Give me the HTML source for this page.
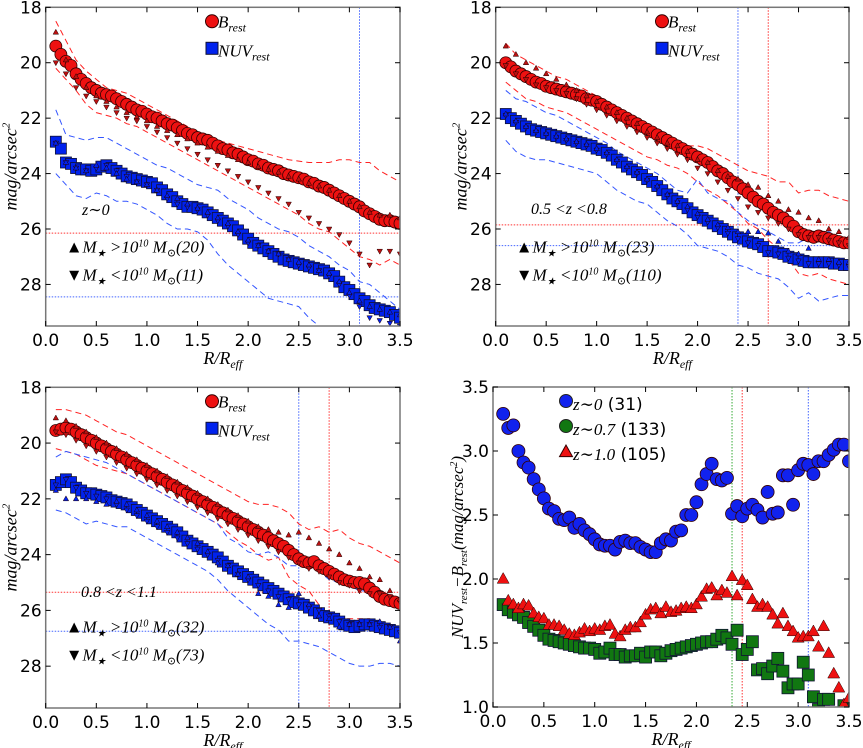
<!DOCTYPE html>
<html><head><meta charset="utf-8"><style>
body{margin:0;background:#fff}
svg{display:block}
.t{font-family:"DejaVu Sans","Liberation Sans",sans-serif;font-size:17px;fill:#000}
.m{font-family:"Liberation Serif","DejaVu Serif",serif;font-style:italic;fill:#000}
</style></head><body>
<svg id="fig" width="863" height="748" viewBox="0 0 863 748" xmlns="http://www.w3.org/2000/svg"></svg>
<script>
// ---- data (radii: 0.1..3.5; dense series step 0.05, sparse step 0.1) ----
const p1B=[19.4,19.7,19.95,20.1,20.4,20.6,20.75,20.9,21.0,21.1,21.15,21.2,21.3,21.4,21.5,21.6,21.7,21.75,21.85,21.95,22.0,22.1,22.2,22.25,22.35,22.45,22.55,22.6,22.7,22.75,22.8,22.9,23.0,23.1,23.15,23.25,23.3,23.4,23.5,23.55,23.65,23.7,23.8,23.85,23.9,24.0,24.05,24.1,24.15,24.2,24.3,24.35,24.45,24.5,24.6,24.7,24.8,24.9,25.0,25.1,25.2,25.35,25.45,25.55,25.65,25.7,25.7,25.75,25.8];
const p1N=[22.85,23.1,23.6,23.65,23.8,23.85,23.85,23.9,23.85,23.75,23.7,23.8,23.9,24.0,24.1,24.15,24.2,24.25,24.3,24.35,24.5,24.6,24.75,24.85,25.0,25.1,25.2,25.2,25.25,25.3,25.4,25.5,25.6,25.7,25.8,25.9,26.05,26.2,26.35,26.5,26.6,26.7,26.8,26.9,27.0,27.1,27.15,27.2,27.25,27.3,27.35,27.4,27.45,27.5,27.6,27.7,27.9,28.1,28.2,28.35,28.5,28.6,28.75,28.85,28.9,28.95,29.0,29.1,29.2];
const p1BUp=[18.9,19.9,20.5,20.9,21.2,21.4,21.6,21.8,21.95,22.1,22.3,22.45,22.6,22.75,22.9,23.05,23.2,23.35,23.5,23.6,23.75,23.85,23.95,24.1,24.2,24.35,24.45,24.6,24.8,25.0,25.2,25.4,25.5,25.5,25.6];
const p1BDn=[20.0,20.4,20.9,21.2,21.4,21.6,21.8,22.0,22.1,22.3,22.5,22.7,22.9,23.1,23.3,23.5,23.7,23.9,24.1,24.3,24.5,24.7,24.9,25.1,25.4,25.6,25.8,26.0,26.2,26.5,26.9,27.3,26.8,26.8,26.9];
const p1NUp=[22.9,23.6,23.8,23.9,23.7,23.8,24.0,24.2,24.3,24.4,24.6,24.8,24.9,25.1,25.25,25.4,25.6,25.8,26.1,26.4,26.6,26.8,26.9,27.1,27.2,27.3,27.5,27.6,27.9,28.3,28.6,28.8,28.9,29.0,29.1];
const p1NDn=[22.9,23.6,23.8,23.9,23.8,23.7,23.9,24.1,24.3,24.4,24.6,24.9,25.1,25.2,25.3,25.5,25.7,25.9,26.2,26.5,26.6,26.8,26.9,27.1,27.3,27.4,27.5,27.7,28.0,28.4,28.8,29.2,29.3,29.4,29.5];
const p1RU=[18.5,19.2,19.9,20.3,20.6,20.9,21.0,21.1,21.3,21.5,21.7,21.9,22.1,22.3,22.5,22.6,22.8,22.9,23.0,23.1,23.2,23.3,23.4,23.5,23.55,23.6,23.6,23.6,23.5,23.5,23.6,23.6,23.9,24.1,24.3];
const p1RL=[20.2,20.6,21.0,21.5,21.8,21.9,22.0,22.2,22.3,22.5,22.7,22.9,23.1,23.3,23.5,23.7,23.9,24.1,24.3,24.5,24.7,24.9,25.1,25.3,25.5,25.8,26.0,26.1,26.4,26.7,27.0,27.1,27.3,27.1,27.3];
const p1NU=[21.7,22.6,22.7,22.8,22.7,22.7,22.9,23.1,23.3,23.5,23.7,23.8,24.0,24.2,24.4,24.5,24.6,24.9,25.1,25.3,25.6,25.8,26.0,26.1,26.3,26.6,26.8,27.0,27.3,27.5,27.9,28.0,28.3,28.6,28.9];
const p1NL=[24.0,24.4,24.8,24.9,24.7,24.8,25.0,25.0,25.1,25.3,25.5,25.8,26.0,26.0,26.1,26.4,26.9,27.3,27.6,27.9,28.2,28.5,28.6,28.7,28.8,29.2,29.5,29.8,30.2,30.5,30.8,31,31,31,31];
const p1Ref={vB:[3.1],vR:[],hR:[26.15],hB:[28.45]};

const p2B=[20.0,20.15,20.3,20.4,20.5,20.6,20.7,20.75,20.85,20.9,20.95,21.0,21.05,21.1,21.15,21.2,21.3,21.35,21.4,21.5,21.6,21.7,21.8,21.9,22.0,22.1,22.2,22.3,22.4,22.5,22.6,22.7,22.8,22.9,23.0,23.1,23.2,23.3,23.4,23.5,23.6,23.75,23.9,24.0,24.15,24.3,24.4,24.55,24.7,24.85,25.0,25.1,25.25,25.4,25.5,25.6,25.75,25.9,26.1,26.2,26.25,26.3,26.25,26.3,26.35,26.4,26.45,26.5,26.5];
const p2N=[21.85,22.0,22.1,22.2,22.3,22.4,22.45,22.5,22.55,22.6,22.65,22.7,22.75,22.8,22.85,22.9,22.95,23.0,23.1,23.15,23.25,23.35,23.5,23.6,23.75,23.85,23.95,24.05,24.2,24.3,24.45,24.6,24.75,24.9,25.0,25.1,25.25,25.4,25.5,25.6,25.7,25.8,25.9,26.0,26.1,26.2,26.3,26.35,26.45,26.5,26.55,26.65,26.8,26.8,26.85,26.9,27.0,27.05,27.1,27.15,27.2,27.2,27.2,27.2,27.2,27.25,27.25,27.3,27.3];
const p2BUp=[19.4,19.7,20.0,20.2,20.4,20.6,20.8,21.0,21.2,21.4,21.6,21.8,22.0,22.2,22.5,22.7,22.9,23.0,23.2,23.5,23.6,23.9,24.1,24.2,24.4,24.5,24.8,25.0,25.3,25.4,25.6,25.7,26.0,26.1,26.3];
const p2BDn=[20.1,20.4,20.6,20.8,20.9,21.0,21.1,21.3,21.5,21.7,21.9,22.1,22.3,22.5,22.7,22.9,23.1,23.3,23.5,23.8,24.0,24.3,24.6,24.9,25.2,25.4,25.6,25.8,26.0,26.2,26.3,26.3,26.4,26.5,26.6];
const p2NUp=[21.85,22.1,22.3,22.45,22.55,22.65,22.75,22.85,22.95,23.1,23.25,23.5,23.75,23.95,24.2,24.45,24.75,25.0,25.2,25.45,25.65,25.85,25.95,26.1,26.1,26.1,26.15,26.45,26.8,26.9,26.7,27.1,27.1,27.2,27.2];
const p2NDn=[21.9,22.15,22.35,22.5,22.6,22.7,22.8,22.9,23.0,23.15,23.3,23.55,23.8,24.0,24.25,24.5,24.8,25.05,25.3,25.55,25.75,25.95,26.15,26.35,26.5,26.6,26.85,26.9,27.05,27.15,27.25,27.25,27.25,27.3,27.35];
const p2RU=[19.3,19.7,19.9,20.1,20.3,20.5,20.6,20.8,21.0,21.2,21.4,21.6,21.8,22.0,22.2,22.4,22.6,22.8,23.0,23.0,23.1,23.3,23.5,23.7,23.9,24.0,24.1,24.3,24.3,24.7,24.6,24.6,24.8,24.9,25.0];
const p2RL=[20.7,21.0,21.3,21.4,21.6,21.7,21.8,22.0,22.2,22.4,22.6,22.8,23.0,23.2,23.4,23.5,23.7,23.8,24.0,24.3,24.6,24.8,25.1,25.4,25.8,26.0,26.4,26.7,27.1,27.6,27.7,27.6,27.8,27.9,28.0];
const p2NU=[21.0,21.3,21.4,21.6,21.8,21.9,22.1,22.3,22.5,22.7,22.9,23.2,23.4,23.6,23.8,24.0,24.3,24.6,24.7,24.2,24.7,24.9,25.0,25.4,25.7,25.9,26.1,26.3,26.5,26.5,26.3,26.2,26.1,26.3,26.4];
const p2NL=[22.8,23.2,23.4,23.5,23.5,23.6,23.7,23.8,23.9,24.0,24.3,24.6,24.8,25.0,25.1,25.4,25.7,25.9,26.2,26.6,26.7,26.8,27.0,27.3,27.4,27.6,27.7,27.8,28.1,28.5,28.3,28.6,28.5,28.4,28.4];
const p2Ref={vB:[2.4],vR:[2.7],hR:[25.85],hB:[26.6]};

const p3B=[19.55,19.5,19.45,19.5,19.6,19.7,19.8,19.9,20.0,20.1,20.2,20.3,20.4,20.5,20.6,20.7,20.8,20.9,21.0,21.1,21.2,21.3,21.4,21.5,21.6,21.7,21.8,21.9,22.0,22.1,22.2,22.3,22.4,22.5,22.6,22.7,22.8,22.9,23.0,23.1,23.2,23.3,23.4,23.5,23.6,23.7,23.85,24.0,24.15,24.25,24.3,24.25,24.4,24.5,24.6,24.7,24.8,24.9,24.95,25.0,25.0,25.05,25.2,25.35,25.5,25.6,25.65,25.7,25.75];
const p3N=[21.5,21.4,21.3,21.4,21.6,21.7,21.8,21.8,21.85,21.9,21.95,22.05,22.1,22.15,22.2,22.3,22.4,22.5,22.6,22.7,22.8,22.9,23.0,23.1,23.2,23.35,23.5,23.6,23.7,23.8,23.9,24.0,24.1,24.25,24.4,24.5,24.6,24.7,24.8,24.9,25.0,25.1,25.2,25.3,25.4,25.5,25.6,25.7,25.75,25.8,25.9,26.0,26.1,26.2,26.25,26.3,26.4,26.5,26.55,26.6,26.55,26.5,26.5,26.55,26.6,26.65,26.7,26.75,26.8];
const p3BUp=[19.1,19.2,19.4,19.6,19.8,20.0,20.2,20.4,20.6,20.8,21.0,21.2,21.4,21.6,21.8,22.0,22.2,22.4,22.6,22.8,23.0,23.1,23.2,23.3,23.2,23.4,23.6,23.8,24.0,24.3,24.5,24.8,24.9,25.3,25.6];
const p3BDn=[19.6,19.7,19.9,20.1,20.3,20.5,20.7,20.9,21.1,21.3,21.5,21.7,21.9,22.1,22.3,22.5,22.7,22.9,23.1,23.3,23.5,23.7,23.9,24.1,24.3,24.5,24.6,24.8,25.0,25.1,25.3,25.4,25.4,25.5,25.7];
const p3NUp=[21.7,22.0,22.0,22.0,22.1,22.2,22.1,22.2,22.4,22.6,22.8,23.0,23.2,23.4,23.6,23.9,24.3,24.4,24.7,24.8,25.4,25.5,25.8,25.9,25.4,25.8,26.2,26.3,26.6,26.5,26.5,26.5,26.4,26.6,27.1];
const p3NDn=[21.5,21.3,21.6,21.8,21.9,22.0,22.2,22.4,22.6,22.8,23.0,23.2,23.4,23.6,23.8,24.0,24.2,24.4,24.7,24.9,25.1,25.3,25.5,25.6,25.8,25.9,26.0,26.2,26.4,26.5,26.5,26.5,26.6,26.6,26.8];
const p3RU=[18.8,18.8,18.9,19.0,19.2,19.4,19.6,19.7,19.9,20.1,20.3,20.5,20.7,20.9,21.1,21.3,21.5,21.7,21.9,22.1,22.2,22.2,22.3,22.5,22.9,23.1,23.0,23.2,23.1,23.4,23.6,23.7,23.9,24.1,24.3];
const p3RL=[20.2,20.3,20.4,20.6,20.8,20.9,21.0,21.1,21.3,21.5,21.7,21.9,22.1,22.3,22.5,22.7,22.9,23.2,23.5,23.7,24.0,24.2,24.1,24.8,25.1,25.3,25.8,26.2,26.3,26.3,26.3,26.3,26.5,26.7,27.2];
const p3NU=[20.5,20.3,20.4,20.5,20.6,20.7,20.9,21.1,21.3,21.5,21.7,21.9,22.1,22.3,22.5,22.7,22.9,23.4,23.6,23.9,24.0,23.9,24.1,24.4,24.4,24.3,24.6,24.9,25.0,25.1,25.3,25.3,25.3,25.7,25.8];
const p3NL=[22.4,22.5,22.7,22.9,22.8,22.9,23.0,23.0,23.2,23.4,23.6,23.8,24.0,24.2,24.4,24.6,24.9,25.3,25.6,25.9,26.2,26.5,26.7,27.1,27.1,27.2,27.3,27.5,27.7,27.9,28.0,28.0,27.9,27.9,28.0];
const p3Ref={vB:[2.5],vR:[2.8],hR:[25.35],hB:[26.75]};

const c0=[3.29,3.18,3.20,3.00,2.91,2.87,2.78,2.70,2.63,2.55,2.53,2.47,2.46,2.48,2.40,2.43,2.38,2.35,2.31,2.27,2.26,2.26,2.23,2.29,2.30,2.28,2.28,2.25,2.23,2.21,2.21,2.28,2.31,2.30,2.37,2.38,2.50,2.50,2.60,2.74,2.82,2.90,2.78,2.77,2.79,2.51,2.57,2.49,2.55,2.58,2.54,2.48,2.68,2.51,2.52,2.81,2.81,2.58,2.85,2.90,2.89,2.82,2.92,2.92,2.97,3.01,3.05,3.05,2.92];
const c07=[1.80,1.76,1.74,1.72,1.70,1.66,1.63,1.60,1.56,1.53,1.52,1.51,1.50,1.49,1.48,1.47,1.46,1.46,1.45,1.42,1.43,1.46,1.41,1.41,1.39,1.40,1.40,1.42,1.39,1.43,1.43,1.40,1.42,1.44,1.45,1.46,1.47,1.48,1.49,1.50,1.51,1.51,1.53,1.56,1.54,1.49,1.60,1.41,1.45,1.51,1.29,1.30,1.26,1.32,1.38,1.28,1.15,1.18,1.18,1.35,1.25,1.08,0.98,1.06,1.06,0.95,0.95,1.01,0.98];
const c10=[2.00,1.83,1.80,1.77,1.80,1.79,1.73,1.70,1.69,1.64,1.64,1.63,1.60,1.57,1.56,1.58,1.61,1.59,1.61,1.60,1.63,1.64,1.57,1.55,1.60,1.62,1.62,1.66,1.72,1.76,1.77,1.73,1.78,1.74,1.75,1.77,1.78,1.77,1.80,1.86,1.92,1.93,1.87,1.91,1.89,2.02,1.87,1.99,1.95,1.84,1.78,1.80,1.78,1.72,1.65,1.73,1.63,1.59,1.54,1.55,1.55,1.59,1.47,1.63,1.42,1.26,1.15,1.02,1.07];
const p4Ref={vG:[2.35],vR:[2.45],vB:[3.1]};
const xTicks=["0.0","0.5","1.0","1.5","2.0","2.5","3.0","3.5"];
const yTicksMag=["18","20","22","24","26","28"];
const yTicksCol=["1.0","1.5","2.0","2.5","3.0","3.5"];

// ---- drawing ----
const NS="http://www.w3.org/2000/svg";
const fig=document.getElementById('fig');
function el(tag,attrs,parent){const e=document.createElementNS(NS,tag);for(const k in attrs)e.setAttribute(k,attrs[k]);(parent||fig).appendChild(e);return e;}
const R=(i,step)=>0.1+i*step;

function panel(id,L,Rt,T,B,y0,y1,clipId){
  const g=el('g',{});
  
  
  const sx=v=>L+(v/3.5)*(Rt-L), sy=v=>T+(v-y0)/(y1-y0)*(B-T);
  const defs=el('defs',{},g);const cp=el('clipPath',{id:clipId},defs);el('rect',{x:L,y:T,width:Rt-L,height:B-T},cp);
  const plot=el('g',{'clip-path':'url(#'+clipId+')'},g);
  return {g,plot,sx,sy,L,Rt,T,B,y0,y1};
}
function axes(P,yLabels,yVals){
  const {g,sx,sy,L,Rt,T,B}=P;
  const fr=el('rect',{x:L,y:T,width:Rt-L,height:B-T,fill:'none',stroke:'#777',"stroke-width":1.5},g);
  
  
  xTicks.forEach((t,i)=>{const x=sx(i*0.5);
    el('line',{x1:x,x2:x,y1:B,y2:B-5,stroke:'#000'},g);el('line',{x1:x,x2:x,y1:T,y2:T+5,stroke:'#000'},g);
    const tx=el('text',{x:x,y:B+20,'text-anchor':'middle',class:'t'},g);tx.textContent=t;
    
    });
  yLabels.forEach((t,i)=>{const y=sy(yVals[i]);
    el('line',{x1:L,x2:L+5,y1:y,y2:y,stroke:'#000'},g);el('line',{x1:Rt,x2:Rt-5,y1:y,y2:y,stroke:'#000'},g);
    const tx=el('text',{x:L-4,y:y+6,'text-anchor':'end',class:'t'},g);tx.textContent=t;
    
    });
  const xl=el('text',{x:(L+Rt)/2,y:B+38,'text-anchor':'middle',class:'m','font-size':18},g);
  xl.innerHTML='R/R<tspan font-size="12" dy="4">eff</tspan>';
  
  
}
function ytitle(P,html,x,fs){
  const yl=el('text',{x:0,y:0,'text-anchor':'middle',class:'m','font-size':fs,transform:`translate(${x},${(P.T+P.B)/2}) rotate(-90)`},P.g);
  yl.innerHTML=html;
  
  
}
function dashed(P,arr,color,name){
  const pts=arr.map((v,i)=>P.sx(R(i,0.1))+','+P.sy(v)).join(' ');
  const e=el('polyline',{points:pts,fill:'none',stroke:color,'stroke-width':1,'stroke-dasharray':'6,4'},P.plot);
  
  
}
function refs(P,r){
  const mk=(arr,col,vert,name)=>(arr||[]).forEach(v=>{
    const a=vert?{x1:P.sx(v),x2:P.sx(v),y1:P.T,y2:P.B}:{x1:P.L,x2:P.Rt,y1:P.sy(v),y2:P.sy(v)};
    a.stroke=col;a['stroke-width']=1;a['stroke-dasharray']='1.5,1.5';
    const e=el('line',a,P.plot);
    
    });
  mk(r.vB,'#4466ff',true,'ref-line-blue');mk(r.vR,'#ff3333',true,'ref-line-red');mk(r.vG,'#33aa33',true,'ref-line-green');
  mk(r.hR,'#ff3333',false,'ref-line-red');mk(r.hB,'#4466ff',false,'ref-line-blue');
}
function tri(cx,cy,s,up){const h=s*0.9;return up?`${cx},${cy-h*0.6} ${cx-s/2},${cy+h*0.4} ${cx+s/2},${cy+h*0.4}`:`${cx},${cy+h*0.6} ${cx-s/2},${cy-h*0.4} ${cx+s/2},${cy-h*0.4}`;}
function marks(P,arr,step,kind,fill,size,name){
  arr.forEach((v,i)=>{const x=P.sx(R(i,step)),y=P.sy(v);let e;
    if(kind==='c')e=el('circle',{cx:x,cy:y,r:size,fill:fill,stroke:'#300','stroke-width':0.8},P.plot);
    else if(kind==='s')e=el('rect',{x:x-size,y:y-size,width:size*2,height:size*2,fill:fill,stroke:'#113','stroke-width':0.8},P.plot);
    else e=el('polygon',{points:tri(x,y,size,kind==='u'),fill:fill,stroke:'#200','stroke-width':0.5},P.plot);
    
    });
}
function magPanel(id,L,Rt,T,B,d,ref,zText,zx,zy,nUp,nDn,legX){
  const P=panel(id,L,Rt,T,B,18,29.5,id+'-clip');
  refs(P,ref);
  dashed(P,d.RU,'#ff2222','b-upper-dashed');dashed(P,d.RL,'#ff2222','b-lower-dashed');
  dashed(P,d.NU,'#3355ff','nuv-upper-dashed');dashed(P,d.NL,'#3355ff','nuv-lower-dashed');
  marks(P,d.N,0.05,'s','#0022ee',5.5,'nuv-square');
  marks(P,d.NDn,0.1,'d','#0022ee',5.5,'nuv-low-mass-tri');
  marks(P,d.NUp,0.1,'u','#0022ee',5.5,'nuv-high-mass-tri');
  marks(P,d.B,0.05,'c','#ee1111',6,'b-circle');
  marks(P,d.BDn,0.1,'d','#bb1111',5.5,'b-low-mass-tri');
  marks(P,d.BUp,0.1,'u','#bb1111',5.5,'b-high-mass-tri');
  axes(P,yTicksMag,[18,20,22,24,26,28]);
  ytitle(P,'mag/arcsec<tspan font-size="11" dy="-7">2</tspan>',L-29,18);
  const g=P.g;
  const lg=el('g',{},g);
  el('circle',{cx:legX,cy:T+14,r:6.5,fill:'#ee1111',stroke:'#300'},lg);
  let t=el('text',{x:legX+6,y:T+20,class:'m','font-size':17},lg);t.innerHTML='B<tspan font-size="12" dy="4">rest</tspan>';
  el('rect',{x:legX-6,y:T+35,width:12,height:12,fill:'#0022ee',stroke:'#113'},lg);
  t=el('text',{x:legX+6,y:T+49,class:'m','font-size':17},lg);t.innerHTML='NUV<tspan font-size="12" dy="4">rest</tspan>';
  t=el('text',{x:zx,y:zy,class:'m','font-size':16},g);t.textContent=zText;
  
  const ax=L+20;
  t=el('text',{x:ax,y:T+245,class:'m','font-size':17},g);
  t.innerHTML='<tspan font-style="normal">▲</tspan>M<tspan font-size="10" dy="4">★</tspan><tspan dy="-4"> &gt;10</tspan><tspan font-size="10" dy="-6">10</tspan><tspan dy="6"> M</tspan><tspan font-size="11" dy="4">⊙</tspan><tspan dy="-4">('+nUp+')</tspan>';
  
  t=el('text',{x:ax,y:T+273,class:'m','font-size':17},g);
  t.innerHTML='<tspan font-style="normal">▼</tspan>M<tspan font-size="10" dy="4">★</tspan><tspan dy="-4"> &lt;10</tspan><tspan font-size="10" dy="-6">10</tspan><tspan dy="6"> M</tspan><tspan font-size="11" dy="4">⊙</tspan><tspan dy="-4">('+nDn+')</tspan>';
  
}
magPanel('panel-z0',45.7,400,7.3,326,{B:p1B,N:p1N,BUp:p1BUp,BDn:p1BDn,NUp:p1NUp,NDn:p1NDn,RU:p1RU,RL:p1RL,NU:p1NU,NL:p1NL},p1Ref,'z∼0',82,215,20,11,212);
magPanel('panel-z05',495.7,849,7.3,326,{B:p2B,N:p2N,BUp:p2BUp,BDn:p2BDn,NUp:p2NUp,NDn:p2NDn,RU:p2RU,RL:p2RL,NU:p2NU,NL:p2NL},p2Ref,'0.5 <z <0.8',531,214,23,110,662);
magPanel('panel-z08',45.7,400,387.3,708,{B:p3B,N:p3N,BUp:p3BUp,BDn:p3BDn,NUp:p3NUp,NDn:p3NDn,RU:p3RU,RL:p3RL,NU:p3NU,NL:p3NL},p3Ref,'0.8 <z <1.1',81,597,32,73,212);

(function(){
  const P=panel('panel-colour',493,849,387,707,3.5,1.0,'p4-clip');
  refs(P,p4Ref);
  marks(P,c07,0.05,'s','#117711',6,'green-square');
  marks(P,c10,0.05,'u','#ee1111',12,'red-triangle');
  marks(P,c0,0.05,'c','#1122ee',6.5,'blue-circle');
  axes(P,yTicksCol,[1.0,1.5,2.0,2.5,3.0,3.5]);
  ytitle(P,'NUV<tspan font-size="11" dy="4">rest</tspan><tspan dy="-4">−B</tspan><tspan font-size="11" dy="4">rest</tspan><tspan dy="-4">(mag/arcsec</tspan><tspan font-size="10" dy="-6">2</tspan><tspan dy="6">)</tspan>',463,17);
  const g=P.g;
  const lg=el('g',{},g);
  const items=[['c','#1122ee','z∼0','(31)'],['c','#117711','z∼0.7','(133)'],['u','#ee1111','z∼1.0','(105)']];
  items.forEach((it,i)=>{const y=P.T+14+i*25;
    if(it[0]==='c')el('circle',{cx:566,cy:y,r:6.5,fill:it[1],stroke:'#222'},lg);
    else el('polygon',{points:tri(566,y+1,13,true),fill:it[1],stroke:'#300'},lg);
    const tx=el('text',{x:573,y:y+9,class:'m','font-size':17},lg);
    tx.innerHTML=it[2]+'<tspan font-family="DejaVu Sans" font-style="normal" font-size="17"> '+it[3]+'</tspan>';});
})();
</script>
</body></html>
